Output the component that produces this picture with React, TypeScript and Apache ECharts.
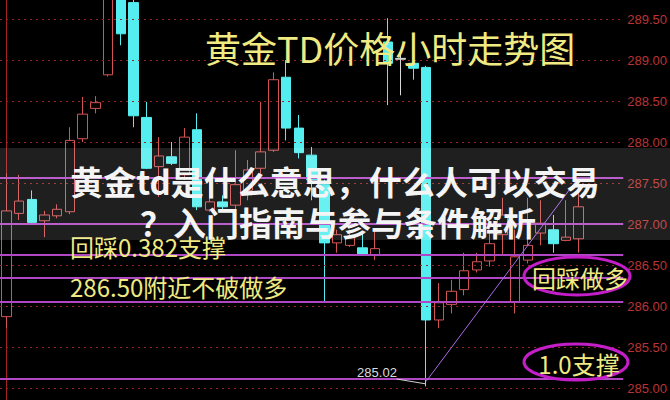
import React, { useEffect, useRef } from "react";
import * as echarts from "echarts";

// hourly bars (49 slots, last 3 empty)
const categories = Array.from({ length: 49 }, (_, i) => `H${i + 1}`);

const opens = [
  285.87, 287.13, 287.30, 287.04, 287.10, 287.15, 288.04, 288.41, 288.82, 289.88,
  289.70, 288.30, 287.70, 287.82, 287.60, 288.15, 287.17, 287.27, 287.23, 287.41,
  287.68, 287.90, 288.79, 288.17, 287.84, 287.48, 286.77, 286.74, 286.71, 286.62,
  289.22, 289.02, 288.96, 288.91, 285.83, 286.02, 286.20, 286.44, 286.55, 286.87,
  286.05, 286.56, 286.89, 286.93, 286.80, 286.82,
];
const closes = [
  287.16, 287.28, 287.02, 287.11, 287.18, 288.02, 288.34, 288.48, 289.91, 289.32,
  288.32, 287.68, 287.83, 287.74, 288.06, 287.21, 287.27, 287.21, 287.48, 287.66,
  287.88, 288.76, 288.17, 287.87, 287.54, 286.77, 286.87, 286.84, 286.63, 286.70,
  288.96, 289.01, 288.90, 285.83, 286.04, 286.18, 286.43, 286.54, 286.76, 287.11,
  286.60, 286.74, 287.01, 286.76, 286.84, 287.21,
];
const lows = [
  285.73, 287.05, 287.00, 286.84, 287.07, 287.12, 288.00, 288.35, 288.80, 289.18,
  288.18, 287.67, 287.33, 287.72, 287.54, 287.17, 287.15, 287.17, 287.17, 287.29,
  287.60, 287.88, 288.02, 287.80, 287.29, 286.04, 286.65, 286.72, 286.61, 286.56,
  288.45, 288.57, 288.76, 285.02, 285.73, 285.91, 286.13, 286.41, 286.48, 286.62,
  285.91, 286.52, 286.74, 286.65, 286.79, 286.65,
];
const highs = [
  287.62, 287.60, 287.41, 287.16, 287.24, 288.18, 288.55, 288.56, 290.04, 289.98,
  289.78, 288.49, 288.06, 288.00, 288.17, 288.35, 287.62, 287.35, 287.90, 287.78,
  288.49, 288.85, 289.00, 288.33, 287.94, 287.54, 286.93, 286.93, 286.89, 286.93,
  289.51, 289.06, 288.96, 288.93, 286.28, 286.32, 286.65, 286.65, 286.93, 287.32,
  286.93, 287.32, 287.29, 287.11, 287.29, 287.39,
];
const dojiIndex = 31;

const yTicks = [285.0, 285.5, 286.0, 286.5, 287.0, 287.5, 288.0, 288.5, 289.0, 289.5];
const yMin = 284.854;
const yMax = 289.732;
const fibLevels = [287.57, 287.0, 286.63, 286.35, 286.05, 285.11];
const lowLabel = "285.02";
const trendLine = [
  [33, 285.08],
  [45, 287.57],
];
const lowPointer = [
  [30.67, 285.11],
  [33, 285.05],
];

const titleText = "黄金TD价格小时走势图";
const noteLeft1 = "回踩0.382支撑";
const noteLeft2 = "286.50附近不破做多";
const noteRight1 = "回踩做多";
const noteRight2 = "1.0支撑";
const overlay1 = "黄金td是什么意思，什么人可以交易";
const overlay2 = "？入门指南与参与条件解析";

const YELLOW = "#f0ea82";
const CJK = '"Noto Sans CJK SC", "Noto Sans", sans-serif';

export default function App() {
  const ref = useRef<HTMLDivElement>(null);
  useEffect(() => {
    if (!ref.current) return;
    const chart = echarts.init(ref.current, undefined, { renderer: "svg" });
    const candleData: any[] = [];
    for (let i = 0; i < categories.length; i++) {
      if (i >= opens.length) {
        candleData.push("-");
        continue;
      }
      const v = [opens[i], closes[i], lows[i], highs[i]];
      if (i === dojiIndex) {
        candleData.push({
          value: v,
          itemStyle: {
            color: "#d8d8d8",
            color0: "#d8d8d8",
            borderColor: "#d8d8d8",
            borderColor0: "#d8d8d8",
          },
        });
      } else candleData.push(v);
    }
    chart.setOption({
      animation: false,
      backgroundColor: "#000",
      grid: { left: 0, top: 0, width: 624, height: 400 },
      xAxis: [
        { type: "category", data: categories, show: false, boundaryGap: true },
        { type: "value", min: -0.5, max: 48.5, show: false },
      ],
      yAxis: {
        type: "value",
        position: "right",
        min: yMin,
        max: yMax,
        axisLine: { show: true, lineStyle: { color: "#a82222", width: 1 } },
        axisTick: { show: false, customValues: yTicks },
        axisLabel: {
          customValues: yTicks,
          color: "#b83434",
          fontSize: 13,
          fontFamily: '"Liberation Sans", Arial, sans-serif',
          margin: 4,
          padding: [4, 0, 0, 0],
          formatter: (v: number) => v.toFixed(2),
        },
        splitLine: { show: false },
      },
      series: [
        {
          type: "candlestick",
          xAxisIndex: 0,
          data: candleData,
          barWidth: 10,
          itemStyle: {
            color: "#000",
            borderColor: "#d25454",
            color0: "#55eef0",
            borderColor0: "#55eef0",
            borderWidth: 1,
          },
          markLine: {
            silent: true,
            symbol: ["none", "none"],
            label: { show: false },
            data: [
              ...yTicks.map((v) => ({
                yAxis: v,
                lineStyle: { color: "#962626", type: [2, 4], width: 1 },
              })),
              ...fibLevels.map((v) => ({
                yAxis: v,
                lineStyle: { color: "#b048c4", type: "solid", width: 2 },
              })),
            ],
          },
        },
        {
          type: "line",
          xAxisIndex: 1,
          data: [],
          markLine: {
            silent: true,
            symbol: ["none", "none"],
            label: { show: false },
            data: [
              [
                { coord: trendLine[0], lineStyle: { color: "#a868e8", width: 1, type: "solid" } },
                { coord: trendLine[1] },
              ],
              [
                { coord: lowPointer[0], lineStyle: { color: "#d0d0d0", width: 1, type: "solid" } },
                { coord: lowPointer[1] },
              ],
            ],
          },
        },
      ],
      graphic: [
        {
          type: "text",
          z: 40,
          style: {
            text: titleText,
            x: 205,
            y: 47,
            textVerticalAlign: "middle",
            font: `36px ${CJK}`,
            fill: YELLOW,
          },
        },
        {
          type: "text",
          z: 40,
          style: {
            text: noteLeft1,
            x: 70,
            y: 246,
            lineHeight: 22,
            textVerticalAlign: "middle",
            font: `24px ${CJK}`,
            fill: YELLOW,
          },
        },
        {
          type: "text",
          z: 40,
          style: {
            text: noteLeft2,
            x: 70,
            y: 286,
            lineHeight: 24,
            textVerticalAlign: "middle",
            font: `24px ${CJK}`,
            fill: YELLOW,
          },
        },
        {
          type: "ellipse",
          z: 40,
          shape: { cx: 577, cy: 276, rx: 53, ry: 19 },
          style: { fill: "none", stroke: "#c41ec8", lineWidth: 3 },
        },
        {
          type: "text",
          z: 41,
          style: {
            text: noteRight1,
            x: 580,
            y: 277,
            textAlign: "center",
            textVerticalAlign: "middle",
            font: `24px ${CJK}`,
            fill: YELLOW,
          },
        },
        {
          type: "ellipse",
          z: 40,
          shape: { cx: 576, cy: 362, rx: 52, ry: 18 },
          style: { fill: "none", stroke: "#c41ec8", lineWidth: 3 },
        },
        {
          type: "text",
          z: 41,
          style: {
            text: noteRight2,
            x: 579,
            y: 363,
            textAlign: "center",
            textVerticalAlign: "middle",
            font: `24px ${CJK}`,
            fill: YELLOW,
          },
        },
        {
          type: "text",
          z: 41,
          style: {
            text: lowLabel,
            x: 377,
            y: 372,
            textAlign: "center",
            textVerticalAlign: "middle",
            font: `13px "Liberation Sans", Arial, sans-serif`,
            fill: "#dcdcdc",
          },
        },
        {
          type: "rect",
          z: 50,
          shape: { x: 0, y: 148, width: 670, height: 92 },
          style: { fill: "rgba(255,255,255,0.12)" },
        },
        {
          type: "text",
          z: 60,
          style: {
            text: overlay1,
            x: 335,
            y: 181,
            lineHeight: 34,
            textAlign: "center",
            textVerticalAlign: "middle",
            font: `bold 33px ${CJK}`,
            fill: "#f4f4f4",
          },
        },
        {
          type: "text",
          z: 60,
          style: {
            text: overlay2,
            x: 338,
            y: 222,
            lineHeight: 30,
            textAlign: "center",
            textVerticalAlign: "middle",
            font: `bold 33px ${CJK}`,
            fill: "#f4f4f4",
          },
        },
      ],
    });
    return () => chart.dispose();
  }, []);
  return (
    <div
      ref={ref}
      style={{ position: "fixed", left: 0, top: 0, width: 670, height: 400, background: "#000" }}
    />
  );
}
